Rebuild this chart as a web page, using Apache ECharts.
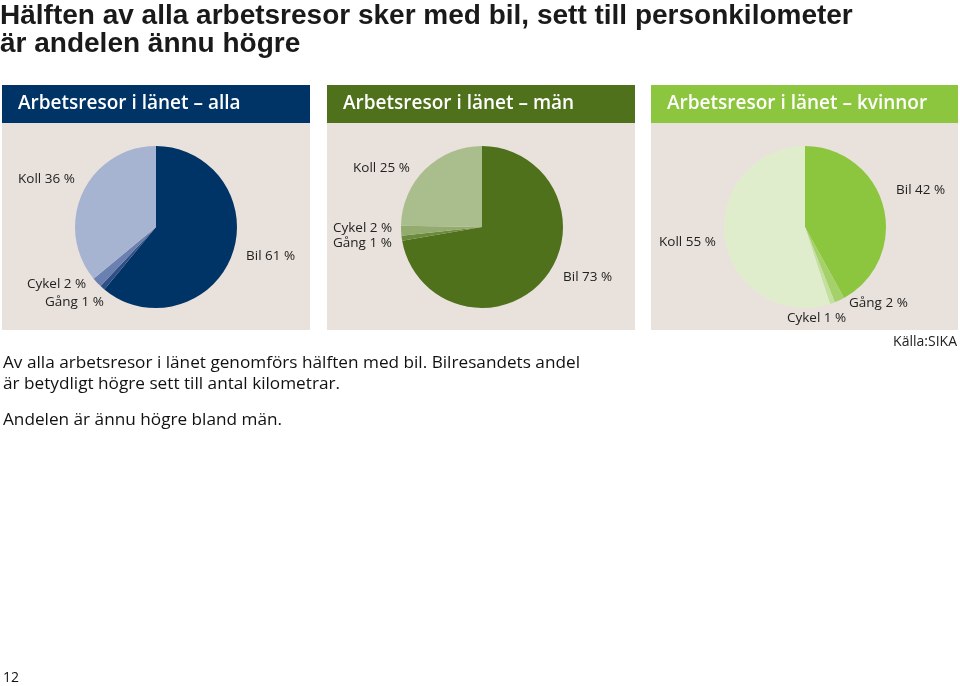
<!DOCTYPE html>
<html>
<head>
<meta charset="utf-8">
<script src="https://cdn.jsdelivr.net/npm/echarts@6/dist/echarts.min.js"></script>
<style>
  html, body { margin: 0; padding: 0; background: #fff; }
  #chart { width: 960px; height: 686px; }
</style>
</head>
<body>
<div id="chart"></div>
<script>
// data (share of work trips, %)
const modes = ["Bil", "Gång", "Cykel", "Koll"];
const alla = [61, 1, 2, 36];
const man = [73, 1, 2, 25];
const kvinnor = [42, 2, 1, 55];
const panelTitles = ["Arbetsresor i länet – alla", "Arbetsresor i länet – män", "Arbetsresor i länet – kvinnor"];

const headColors = ["#003466", "#4f711b", "#8cc63f"];
const sliceColors = [
  ["#003466", "#2f4f86", "#6a80b0", "#a6b3d1"],
  ["#4f711b", "#6c8a3c", "#93ab6f", "#aabd8c"],
  ["#8cc63f", "#a5d16b", "#c3e09c", "#e0edcd"]
];
const panelX = [2, 327, 651];
const panelW = [308, 308, 307];
const centers = [[156, 227], [482, 227], [805, 227]];

// label anchor points (left, middle) for Bil, Gång, Cykel, Koll in each pie
const labelPos = [
  [[246, 256], [45, 302], [27, 284], [18, 179]],
  [[563, 277], [333, 243], [333, 228], [353, 168]],
  [[896, 190], [849, 303], [787, 318], [659, 242]]
];

const font = "'Open Sans', 'Noto Sans', sans-serif";
const titleFont = "bold 28px 'Liberation Sans', Arial, sans-serif";
const chart = echarts.init(document.getElementById("chart"), null, { renderer: "canvas" });

const graphics = [];
panelX.forEach((x, i) => {
  graphics.push({ type: "rect", silent: true, z: 0, shape: { x: x, y: 123, width: panelW[i], height: 207 }, style: { fill: "#e9e2dc" } });
  graphics.push({ type: "rect", silent: true, z: 0, shape: { x: x, y: 85, width: panelW[i], height: 38 }, style: { fill: headColors[i] } });
  graphics.push({
    type: "text", silent: true, z: 1, x: x + 16, y: 104,
    style: { text: panelTitles[i], fill: "#fff", font: "600 19px " + font, verticalAlign: "middle" }
  });
});

// slice labels, one per value
[alla, man, kvinnor].forEach((vals, i) => {
  vals.forEach((v, j) => {
    const p = labelPos[i][j];
    graphics.push({
      type: "text", silent: true, z: 10, x: p[0], y: p[1],
      style: { text: modes[j] + " " + v + " %", fill: "#222", font: "13.5px " + font, verticalAlign: "middle" }
    });
  });
});

graphics.push(
  { type: "text", x: 0, y: 16, style: { text: "Hälften av alla arbetsresor sker med bil, sett till personkilometer", fill: "#1a1a1a", font: titleFont, verticalAlign: "middle" } },
  { type: "text", x: 0, y: 44, style: { text: "är andelen ännu högre", fill: "#1a1a1a", font: titleFont, verticalAlign: "middle" } },
  { type: "text", x: 957, y: 342, style: { text: "Källa:SIKA", fill: "#222", font: "14px " + font, align: "right", verticalAlign: "middle" } },
  { type: "text", x: 3, y: 363, style: { text: "Av alla arbetsresor i länet genomförs hälften med bil. Bilresandets andel", fill: "#111", font: "17.2px " + font, verticalAlign: "middle" } },
  { type: "text", x: 3, y: 384, style: { text: "är betydligt högre sett till antal kilometrar.", fill: "#111", font: "17.2px " + font, verticalAlign: "middle" } },
  { type: "text", x: 3, y: 420, style: { text: "Andelen är ännu högre bland män.", fill: "#111", font: "17.2px " + font, verticalAlign: "middle" } },
  { type: "text", x: 3, y: 678, style: { text: "12", fill: "#111", font: "14px " + font, verticalAlign: "middle" } }
);

function pieSeries(values, idx) {
  return {
    type: "pie",
    center: centers[idx],
    radius: 81,
    startAngle: 90,
    clockwise: true,
    silent: true,
    animation: false,
    z: 5,
    data: modes.map((m, j) => ({ name: m, value: values[j], itemStyle: { color: sliceColors[idx][j] } })),
    label: { show: false },
    labelLine: { show: false }
  };
}

chart.setOption({
  backgroundColor: "#fff",
  animation: false,
  graphic: graphics,
  series: [pieSeries(alla, 0), pieSeries(man, 1), pieSeries(kvinnor, 2)]
});
</script>
</body>
</html>
